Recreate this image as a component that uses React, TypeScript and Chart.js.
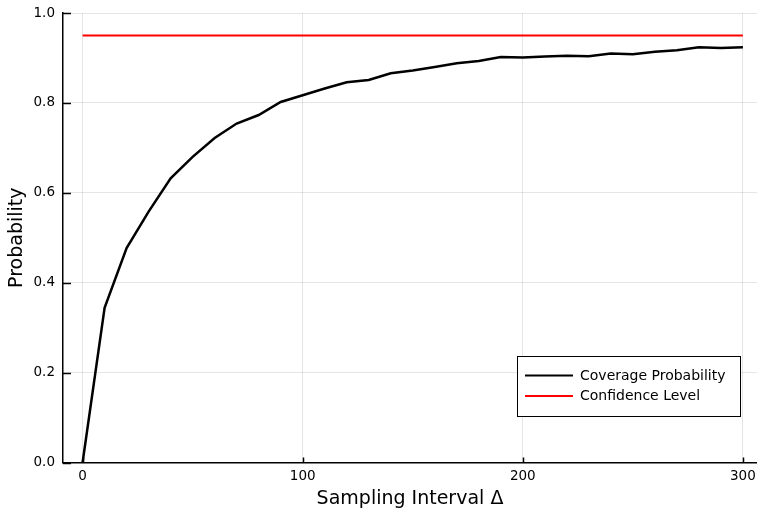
import React, { useEffect, useRef } from "react";
import { Chart, registerables } from "chart.js";

Chart.register(...registerables);

const samplingIntervals = [0, 10, 20, 30, 40, 50, 60, 70, 80, 90, 100, 110, 120, 130, 140, 150, 160, 170, 180, 190, 200, 210, 220, 230, 240, 250, 260, 270, 280, 290, 300];
const coverageProbability = [0, 0.344, 0.477, 0.558, 0.632, 0.68, 0.722, 0.754, 0.773, 0.802, 0.817, 0.832, 0.846, 0.851, 0.866, 0.872, 0.88, 0.888, 0.893, 0.902, 0.901, 0.903, 0.905, 0.904, 0.91, 0.908, 0.914, 0.917, 0.924, 0.922, 0.924];
const confidenceX = [0, 300];
const confidenceY = [0.95, 0.95];
const xTickValues = [0, 100, 200, 300];
const yTickValues = [0, 0.2, 0.4, 0.6, 0.8, 1.0];
const seriesLabels = ["Coverage Probability", "Confidence Level"];
const seriesColors = ["#000000", "#ff0000"];

const FONT = "'DejaVu Sans', sans-serif";

const innerTicksAndLegend = {
  id: "innerTicksAndLegend",
  afterDatasetsDraw(chart: any) {
    const ctx = chart.ctx;
    const area = chart.chartArea;
    const xs = chart.scales.x;
    const ys = chart.scales.y;
    ctx.save();
    ctx.strokeStyle = "#000";
    ctx.lineWidth = 1.5;
    xTickValues.forEach((v) => {
      const px = Math.round(xs.getPixelForValue(v)) + 0.5;
      ctx.beginPath();
      ctx.moveTo(px, area.bottom);
      ctx.lineTo(px, area.bottom - 5);
      ctx.stroke();
    });
    yTickValues.forEach((v) => {
      const py = Math.round(ys.getPixelForValue(v)) + 0.5;
      ctx.beginPath();
      ctx.moveTo(area.left, py);
      ctx.lineTo(area.left + 8, py);
      ctx.stroke();
    });
    const boxRight = area.right - 17;
    const boxBottom = area.bottom - 47;
    const boxW = 223;
    const boxH = 59.5;
    const bx = boxRight - boxW;
    const by = boxBottom - boxH;
    ctx.fillStyle = "#fff";
    ctx.fillRect(bx, by, boxW, boxH);
    ctx.lineWidth = 1;
    ctx.strokeStyle = "#000";
    ctx.strokeRect(Math.round(bx) + 0.5, Math.round(by) + 0.5, Math.round(boxW), Math.round(boxH));
    ctx.font = `14px ${FONT}`;
    ctx.textBaseline = "middle";
    ctx.textAlign = "left";
    chart.data.datasets.forEach((ds: any, i: number) => {
      const ry = by + 19.5 + i * 20.5;
      ctx.strokeStyle = ds.borderColor;
      ctx.lineWidth = 2;
      ctx.beginPath();
      ctx.moveTo(bx + 8, ry);
      ctx.lineTo(bx + 56, ry);
      ctx.stroke();
      ctx.fillStyle = "#000";
      ctx.fillText(ds.label, bx + 63, ry + 0.5);
    });
    ctx.restore();
  },
};

export default function App() {
  const ref = useRef<HTMLCanvasElement | null>(null);
  useEffect(() => {
    if (!ref.current) return;
    const chart = new Chart(ref.current, {
      type: "line",
      data: {
        datasets: [
          {
            label: seriesLabels[0],
            data: samplingIntervals.map((x, i) => ({ x, y: coverageProbability[i] })),
            borderColor: seriesColors[0],
            borderWidth: 2.5,
            pointRadius: 0,
            tension: 0,
            fill: false,
          },
          {
            label: seriesLabels[1],
            data: confidenceX.map((x, i) => ({ x, y: confidenceY[i] })),
            borderColor: seriesColors[1],
            borderWidth: 2,
            pointRadius: 0,
            tension: 0,
            fill: false,
          },
        ],
      },
      options: {
        animation: false,
        responsive: false,
        devicePixelRatio: 1,
        layout: { padding: { top: 13, right: 0, left: 0, bottom: 0 } },
        plugins: { legend: { display: false }, tooltip: { enabled: false } },
        scales: {
          x: {
            type: "linear",
            min: -8.9,
            max: 306.4,
            afterBuildTicks: (scale: any) => {
              scale.ticks = xTickValues.map((v) => ({ value: v }));
            },
            afterFit: (scale: any) => {
              scale.height = 49.5;
              scale.paddingLeft = 0;
              scale.paddingRight = 0;
            },
            grid: { color: "rgba(0,0,0,0.1)", lineWidth: 1, drawTicks: false },
            border: { display: true, color: "#000", width: 1.5 },
            ticks: {
              color: "#000",
              font: { family: FONT, size: 13.5 },
              padding: 6,
              maxRotation: 0,
              callback: (v: any) => String(v),
            },
            title: {
              display: true,
              text: "Sampling Interval Δ",
              color: "#000",
              font: { family: FONT, size: 19 },
              padding: { top: 0, bottom: 2 },
            },
          },
          y: {
            type: "linear",
            min: 0,
            max: 1,
            afterBuildTicks: (scale: any) => {
              scale.ticks = yTickValues.map((v) => ({ value: v }));
            },
            afterFit: (scale: any) => {
              scale.width = 63;
              scale.paddingTop = 0;
              scale.paddingBottom = 0;
            },
            grid: { color: "rgba(0,0,0,0.1)", lineWidth: 1, drawTicks: false },
            border: { display: true, color: "#000", width: 1.5 },
            ticks: {
              color: "#000",
              font: { family: FONT, size: 13.5 },
              padding: 8,
              callback: (v: any) => Number(v).toFixed(1),
            },
            title: {
              display: true,
              text: "Probability",
              color: "#000",
              font: { family: FONT, size: 19 },
              padding: { top: 6, bottom: 0 },
            },
          },
        },
      },
      plugins: [innerTicksAndLegend],
    });
    return () => chart.destroy();
  }, []);
  return (
    <div style={{ position: "absolute", left: 0, top: 0, width: 757, height: 512, background: "#fff" }}>
      <canvas ref={ref} width={757} height={512} style={{ display: "block" }} />
    </div>
  );
}
